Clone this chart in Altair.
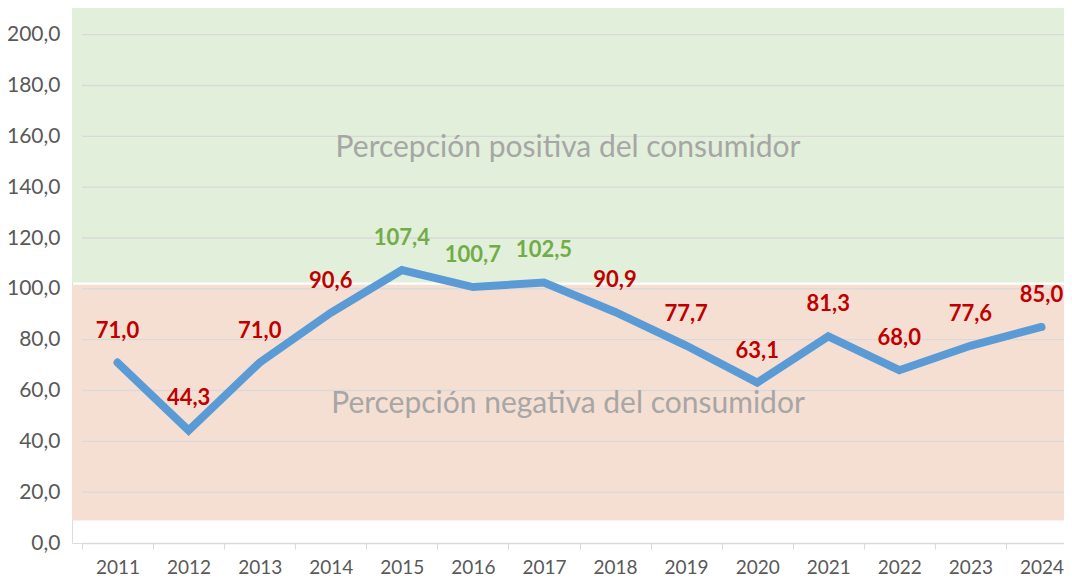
import altair as alt
import pandas as pd

years = ["2011", "2012", "2013", "2014", "2015", "2016", "2017",
         "2018", "2019", "2020", "2021", "2022", "2023", "2024"]
values = [71.0, 44.3, 71.0, 90.6, 107.4, 100.7, 102.5,
          90.9, 77.7, 63.1, 81.3, 68.0, 77.6, 85.0]
y_ticks = [0, 20, 40, 60, 80, 100, 120, 140, 160, 180, 200]
zones = ["Percepción positiva del consumidor", "Percepción negativa del consumidor"]
zone_low = [102.5, 8.9]
zone_high = [210.5, 101.6]
zone_label_y = [155.5, 54.5]

W, H = 992, 535
YMAX = 210.5

df = pd.DataFrame({
    "year": years,
    "value": values,
    "label": [f"{v:.1f}".replace(".", ",") for v in values],
    "positive": [v > 100 for v in values],
})
zdf = pd.DataFrame({"zone": zones, "lo": zone_low, "hi": zone_high,
                    "ly": zone_label_y, "color": ["#e2efda", "#f5dfd3"]})
gdf = pd.DataFrame({"t": y_ticks})

xs = alt.Scale(type="band", domain=years, range=[10, 1005],
               paddingInner=0, paddingOuter=0)
ys = alt.Scale(domain=[0, YMAX], nice=False, zero=True)

x_axis = alt.Axis(title=None, tickBand="extent", labelFont="Lato",
                  labelFontSize=19, labelColor="#595959", labelPadding=9,
                  labelAngle=0, labelBaseline="top",
                  domainColor="#d9d9d9", tickColor="#d9d9d9", tickSize=6,
                  domainWidth=1.3, grid=False)
y_axis = alt.Axis(title=None, values=y_ticks,
                  labelExpr="replace(format(datum.value, '.1f'), '.', ',')",
                  labelFont="Lato", labelFontSize=21, labelColor="#595959",
                  labelPadding=12, domain=False, ticks=False, grid=False)

bands = alt.Chart(zdf).mark_rect().encode(
    x=alt.value(0), x2=alt.value(W),
    y=alt.Y("lo:Q", scale=ys, axis=y_axis), y2="hi:Q",
    color=alt.Color("color:N", scale=None, legend=None),
)

grid = alt.Chart(gdf).transform_filter("datum.t > 0").mark_rule(
    color="#d9d9d9", strokeWidth=1.3).encode(
    x=alt.value(10), x2=alt.value(W),
    y=alt.Y("t:Q", scale=ys),
)

zone_text = alt.Chart(zdf).mark_text(
    font="Lato", fontSize=30, color="#a6a6a6", align="center",
    baseline="middle").encode(
    x=alt.value(496), y=alt.Y("ly:Q", scale=ys), text="zone:N",
)

line = alt.Chart(df).mark_line(
    color="#5b9bd5", strokeWidth=8, strokeCap="round", strokeJoin="miter").encode(
    x=alt.X("year:O", scale=xs, axis=x_axis, sort=years),
    y=alt.Y("value:Q", scale=ys),
)

labels = alt.Chart(df).mark_text(
    font="Lato", fontSize=22, fontWeight="bold", align="center",
    baseline="alphabetic", dy=-25).encode(
    x=alt.X("year:O", scale=xs, sort=years),
    y=alt.Y("value:Q", scale=ys),
    text="label:N",
    color=alt.Color("positive:N", scale=alt.Scale(domain=[True, False],
                    range=["#70ad47", "#c00000"]), legend=None),
)

chart = alt.layer(bands, grid, zone_text, line, labels).properties(
    width=W, height=H,
    autosize=alt.AutoSizeParams(type="none"),
    padding={"left": 64, "top": 0, "right": 0, "bottom": 34},
).configure_view(stroke=None).configure(background="white")

chart.save("out.html", embed_options={"renderer": "svg", "actions": False})
